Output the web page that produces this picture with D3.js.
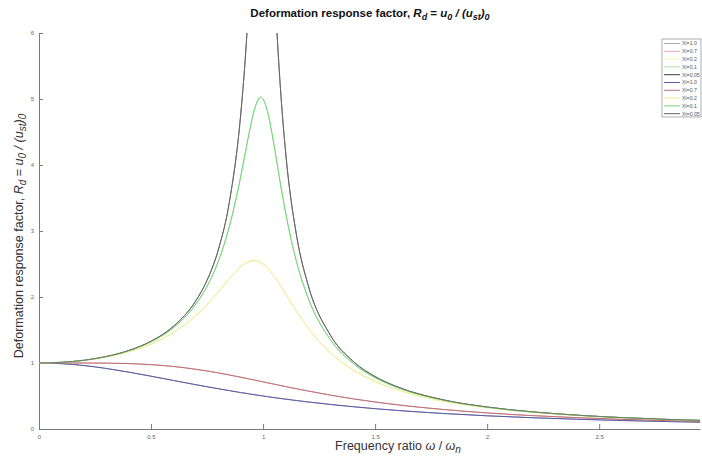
<!DOCTYPE html>
<html>
<head>
<meta charset="utf-8">
<script src="https://cdn.jsdelivr.net/npm/d3@7"></script>
<style>
  body { margin: 0; background: #fff; }
  svg { display: block; font-family: 'Liberation Sans', Arial, sans-serif; }
  .axis path, .axis line { stroke: #7a7a7a; }
  .axis text { fill: #666; font-size: 6px; }
</style>
</head>
<body>
<div id="chart"></div>
<script>
// frequency ratio samples (omega / omega_n)
const ratios = [0, 0.1, 0.2, 0.3, 0.4, 0.5, 0.6, 0.7, 0.75, 0.8, 0.85, 0.9, 0.92, 0.94, 0.96, 0.98, 0.99, 1.0,
  1.02, 1.04, 1.06, 1.08, 1.1, 1.15, 1.2, 1.3, 1.4, 1.5, 1.6, 1.8, 2.0, 2.2, 2.4, 2.6, 2.8, 3.0]

// deformation response factor
const rdXi100 = [1, 0.990, 0.962, 0.917, 0.862, 0.800, 0.735, 0.671, 0.640, 0.610, 0.581, 0.552, 0.542, 0.531, 0.520, 0.510, 0.505, 0.500,
  0.490, 0.480, 0.471, 0.462, 0.452, 0.431, 0.410, 0.372, 0.338, 0.308, 0.281, 0.236, 0.200, 0.171, 0.148, 0.129, 0.113, 0.100]
const rdXi070 = [1, 1.000, 1.000, 0.998, 0.991, 0.975, 0.947, 0.905, 0.879, 0.850, 0.818, 0.785, 0.771, 0.757, 0.743, 0.729, 0.721, 0.714,
  0.700, 0.686, 0.672, 0.657, 0.643, 0.609, 0.576, 0.514, 0.458, 0.409, 0.366, 0.297, 0.244, 0.203, 0.172, 0.147, 0.127, 0.111]
const rdXi020 = [1, 1.009, 1.038, 1.089, 1.169, 1.288, 1.463, 1.719, 1.885, 2.076, 2.279, 2.457, 2.508, 2.541, 2.551, 2.538, 2.522, 2.500,
  2.439, 2.359, 2.264, 2.160, 2.051, 1.780, 1.536, 1.157, 0.900, 0.721, 0.593, 0.425, 0.322, 0.254, 0.206, 0.171, 0.144, 0.124]
const rdXi010 = [1, 1.010, 1.041, 1.097, 1.185, 1.322, 1.536, 1.891, 2.162, 2.538, 3.073, 3.821, 4.172, 4.523, 4.822, 5.001, 5.025, 5.000,
  4.808, 4.476, 4.075, 3.667, 3.288, 2.525, 1.995, 1.356, 1.000, 0.778, 0.628, 0.441, 0.330, 0.259, 0.209, 0.173, 0.146, 0.125]
const rdXi005 = [1, 1.010, 1.041, 1.098, 1.189, 1.330, 1.556, 1.943, 2.253, 2.712, 3.446, 4.757, 5.585, 6.684, 8.067, 9.461, 9.903, 10.0,
  9.117, 7.565, 6.141, 5.041, 4.218, 2.921, 2.193, 1.424, 1.031, 0.794, 0.638, 0.445, 0.333, 0.260, 0.210, 0.173, 0.146, 0.125]

const legendLabels = ['Xi=1.0', 'Xi=0.7', 'Xi=0.2', 'Xi=0.1', 'Xi=0.05']
const xTicks = [0, 0.5, 1, 1.5, 2, 2.5]
const yTicks = [0, 1, 2, 3, 4, 5, 6]

const seriesValues = [rdXi100, rdXi070, rdXi020, rdXi010, rdXi005]
// the figure plots the set twice, with two colour runs
const colorsA = ['#a6a6cc', '#e4aaaa', '#f3f3b4', '#a8e2a8', '#3a3a3a']
const colorsB = ['#5a5ba0', '#bd7078', '#eeee8c', '#74d674', '#666666']

const width = 702
const height = 456
const margin = { top: 33, right: 2, bottom: 27, left: 39 }
const innerWidth = width - margin.left - margin.right
const innerHeight = height - margin.top - margin.bottom

const svg = d3.select('#chart').append('svg')
  .attr('width', width)
  .attr('height', height)

const x = d3.scaleLinear().domain([0, 2.95]).range([0, innerWidth])
const y = d3.scaleLinear().domain([0, 6]).range([innerHeight, 0])

const g = svg.append('g').attr('transform', `translate(${margin.left},${margin.top})`)

svg.append('defs').append('clipPath').attr('id', 'plot-clip')
  .append('rect').attr('width', innerWidth).attr('height', innerHeight)

// AXES
g.append('g')
  .attr('class', 'axis')
  .attr('transform', `translate(0,${innerHeight})`)
  .call(d3.axisBottom(x).tickValues(xTicks).tickSizeInner(-5).tickSizeOuter(0).tickPadding(6).tickFormat(d3.format('')))

g.append('g')
  .attr('class', 'axis')
  .call(d3.axisLeft(y).tickValues(yTicks).tickSizeInner(-4).tickSizeOuter(0).tickPadding(5).tickFormat(d3.format('')))

// CURVES
const line = d3.line()
  .curve(d3.curveMonotoneX)
  .x((d, i) => x(ratios[i]))
  .y(d => y(d))

const curves = g.append('g').attr('clip-path', 'url(#plot-clip)')
;[colorsA, colorsB].forEach(colors => {
  seriesValues.forEach((vals, i) => {
    curves.append('path')
      .datum(vals)
      .attr('fill', 'none')
      .attr('stroke', colors[i])
      .attr('stroke-width', i === 4 ? 0.8 : 1)
      .attr('d', line)
  })
})

// LEGEND
const legendItems = [...legendLabels.map((l, i) => ({ l, c: colorsA[i] })), ...legendLabels.map((l, i) => ({ l, c: colorsB[i] }))]
const legend = svg.append('g').attr('transform', 'translate(662,39)')
legend.append('rect')
  .attr('width', 39).attr('height', 78)
  .attr('fill', '#fff').attr('stroke', '#999').attr('stroke-width', 0.8)
legendItems.forEach((d, i) => {
  const row = legend.append('g').attr('transform', `translate(0,${4.5 + i * 7.8})`)
  row.append('line').attr('x1', 2).attr('x2', 18).attr('stroke', d.c).attr('stroke-width', 1)
  row.append('text').attr('x', 20).attr('dy', '0.35em')
    .attr('font-size', 5.2).attr('fill', '#555').text(d.l)
})

// TITLE
const title = svg.append('text')
  .attr('x', 370).attr('y', 17)
  .attr('text-anchor', 'middle')
  .attr('font-size', 11.5).attr('font-weight', 'bold').attr('fill', '#111')
title.append('tspan').text('Deformation response factor, ')
title.append('tspan').attr('font-style', 'italic').text('R')
title.append('tspan').attr('font-style', 'italic').attr('font-size', 9).attr('dy', 3).text('d')
title.append('tspan').attr('dy', -3).text(' = ')
title.append('tspan').attr('font-style', 'italic').text('u')
title.append('tspan').attr('font-style', 'italic').attr('font-size', 9).attr('dy', 3).text('0')
title.append('tspan').attr('font-style', 'italic').attr('dy', -3).text(' / (u')
title.append('tspan').attr('font-style', 'italic').attr('font-size', 9).attr('dy', 3).text('st')
title.append('tspan').attr('font-style', 'italic').attr('dy', -3).text(')')
title.append('tspan').attr('font-style', 'italic').attr('font-size', 9).attr('dy', 3).text('0')

// Y LABEL
const yLabel = svg.append('text')
  .attr('transform', 'translate(23,236) rotate(-90)')
  .attr('text-anchor', 'middle')
  .attr('font-size', 12.5).attr('fill', '#333')
yLabel.append('tspan').text('Deformation response factor, ')
yLabel.append('tspan').attr('font-style', 'italic').text('R')
yLabel.append('tspan').attr('font-style', 'italic').attr('font-size', 10).attr('dy', 3).text('d')
yLabel.append('tspan').attr('dy', -3).text(' = ')
yLabel.append('tspan').attr('font-style', 'italic').text('u')
yLabel.append('tspan').attr('font-style', 'italic').attr('font-size', 10).attr('dy', 3).text('0')
yLabel.append('tspan').attr('font-style', 'italic').attr('dy', -3).text(' / (u')
yLabel.append('tspan').attr('font-style', 'italic').attr('font-size', 10).attr('dy', 3).text('st')
yLabel.append('tspan').attr('font-style', 'italic').attr('dy', -3).text(')')
yLabel.append('tspan').attr('font-style', 'italic').attr('font-size', 10).attr('dy', 3).text('0')

// X LABEL
const xLabel = svg.append('text')
  .attr('x', 398).attr('y', 450)
  .attr('text-anchor', 'middle')
  .attr('font-size', 12.5).attr('fill', '#333')
xLabel.append('tspan').text('Frequency ratio ')
xLabel.append('tspan').attr('font-style', 'italic').text('ω')
xLabel.append('tspan').text(' / ')
xLabel.append('tspan').attr('font-style', 'italic').text('ω')
xLabel.append('tspan').attr('font-style', 'italic').attr('font-size', 10).attr('dy', 3).text('n')
</script>
</body>
</html>
